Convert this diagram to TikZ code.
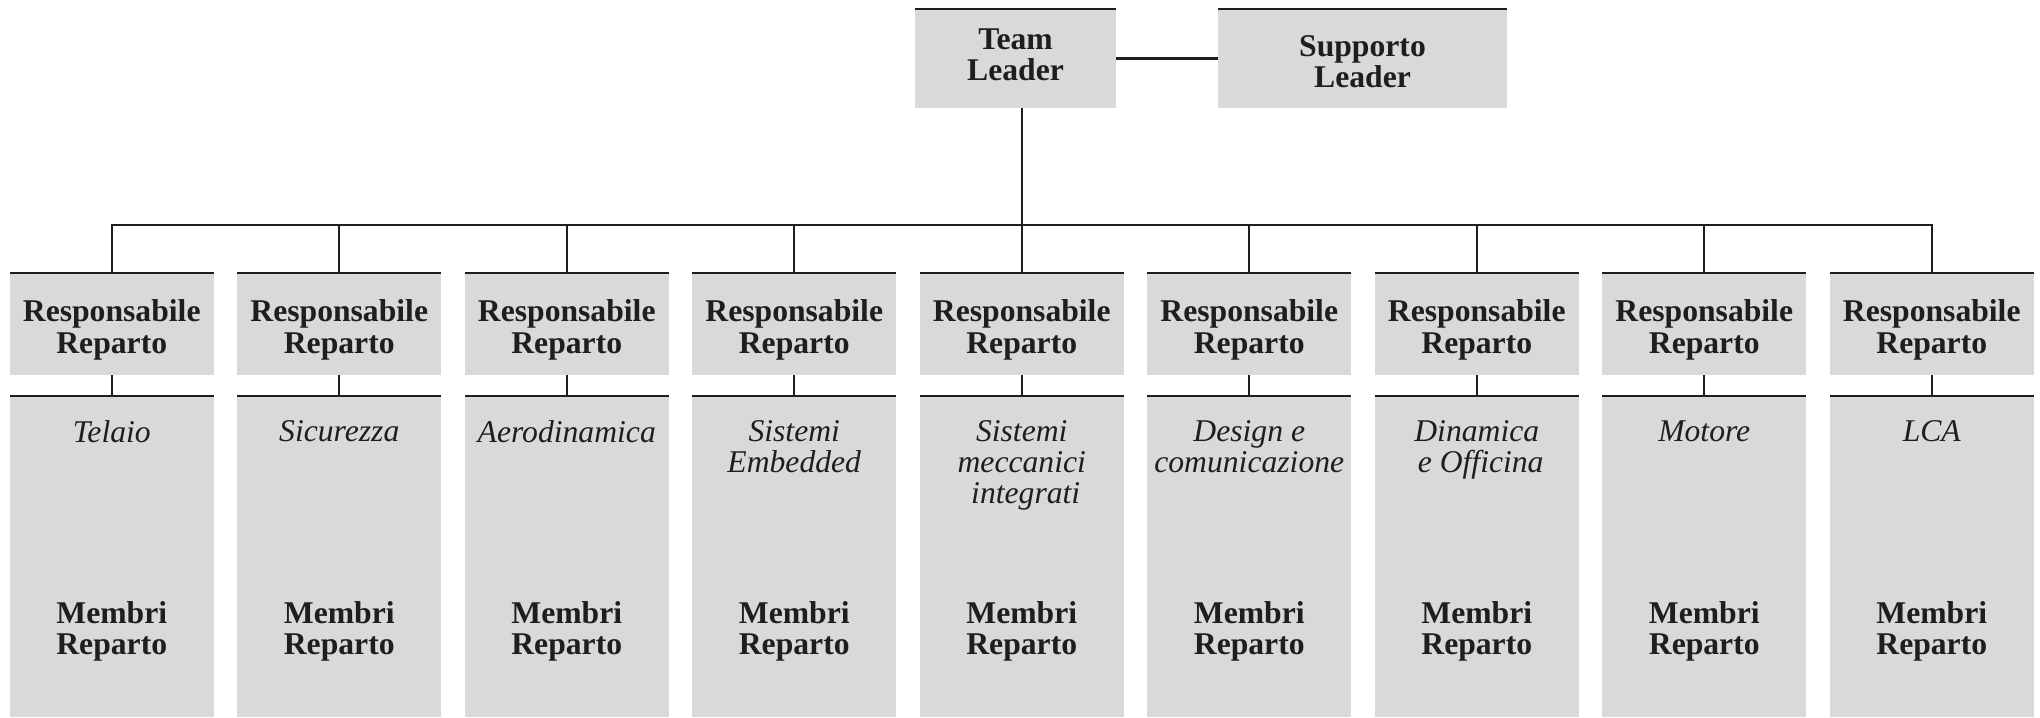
\documentclass[tikz,border=0pt]{standalone}
\usepackage{fontspec}
\setmainfont{Liberation Serif}
\definecolor{boxgray}{HTML}{D9D9D9}
\definecolor{ink}{HTML}{1E1E1E}
\begin{document}
\begin{tikzpicture}[x=0.01cm,y=-0.01cm,
  rule/.style={draw=ink,line width=0.6pt},
  panel/.style={rectangle,fill=boxgray,draw=none,inner sep=0pt,outer sep=0pt},
  headtxt/.style={align=center,inner sep=0pt,text=ink,font=\fontsize{9}{8.9}\selectfont\bfseries},
  depttxt/.style={align=center,inner sep=0pt,text=ink,anchor=north,font=\fontsize{9}{8.85}\selectfont\itshape},
]
\useasboundingbox (0,0) rectangle (2040,717);

% top level
\node[panel,minimum width=2.01cm,minimum height=0.99cm] (tl) at (1015.5,58.5) {};
\node[panel,minimum width=2.89cm,minimum height=0.99cm] (sl) at (1362.5,58.5) {};
\draw[rule] (tl.north west) -- (tl.north east);
\draw[rule] (sl.north west) -- (sl.north east);
\node[headtxt] (tlt) at (1015.5,55) {Team\\Leader};
\node[headtxt] (slt) at (1362.5,61.5) {Supporto\\Leader};
\draw[rule] (tl.east) -- (sl.west);

\coordinate (bus) at (0,225);

% departments
\foreach \i/\dept in {1/Telaio,2/Sicurezza,3/Aerodinamica,4/{Sistemi\\Embedded},
    5/{Sistemi\\meccanici\\\hspace*{0.25em}integrati},6/{Design e\\comunicazione},
    7/{Dinamica\\\hspace*{0.25em}e Officina},8/Motore,9/LCA}{
  \pgfmathsetmacro{\cx}{111.75+227.5*(\i-1)}
  \node[panel,minimum width=2.035cm,minimum height=1.02cm] (r\i) at (\cx,324) {};
  \node[panel,minimum width=2.035cm,minimum height=3.21cm] (d\i) at (\cx,556.5) {};
  \draw[rule] (r\i.north west) -- (r\i.north east);
  \draw[rule] (d\i.north west) -- (d\i.north east);
  \draw[rule] (r\i.south) -- (d\i.north);
  \draw[rule] (r\i.north) -- (r\i.north |- bus);
  \node[headtxt] (rt\i) at (\cx,330) {Responsabile\\Reparto};
  \node[depttxt] (dt\i) at (\cx,420) {\dept};
  \node[headtxt] (mt\i) at (\cx,631.5) {Membri\\Reparto};
}

% bus
\draw[rule] (r1.north) -- (r1.north |- bus) -- (r9.north |- bus) -- (r9.north);
\draw[rule] (r5.north |- tl.south) -- (r5.north |- bus);
\end{tikzpicture}
\end{document}
